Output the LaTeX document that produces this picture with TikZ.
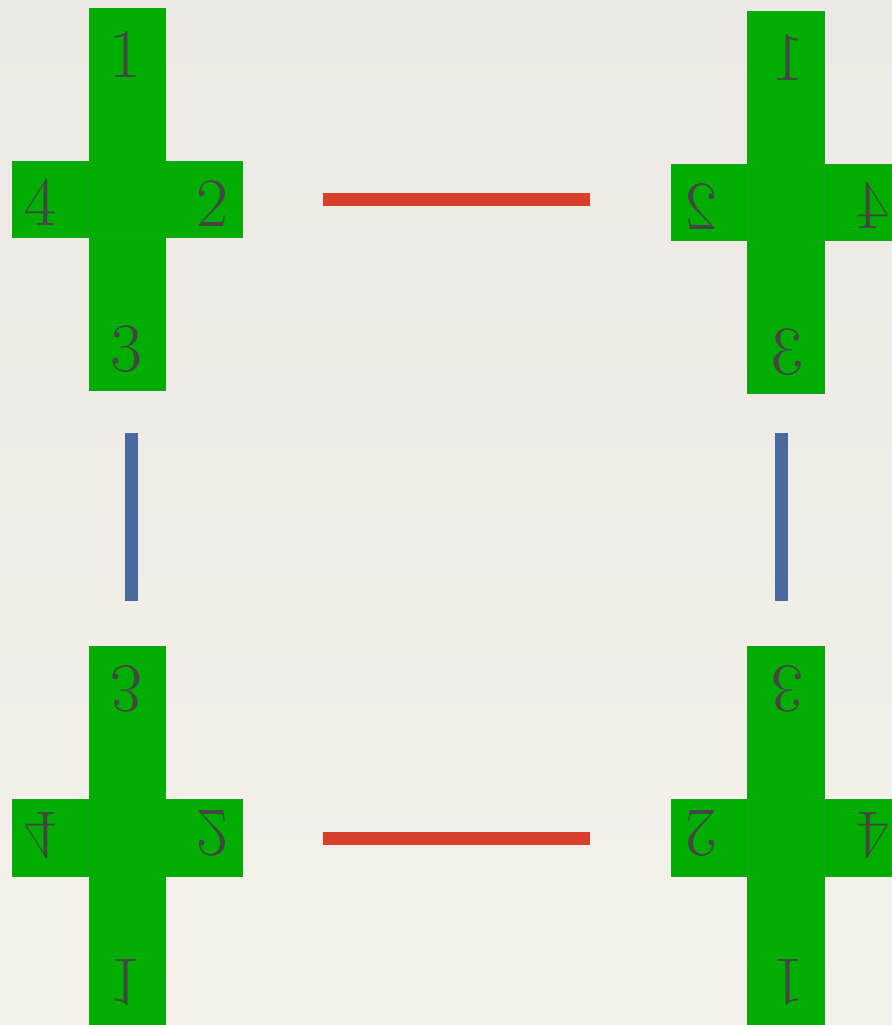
\documentclass[tikz,border=0pt]{standalone}
\usepackage{tikz}
\usetikzlibrary{positioning}
\definecolor{paper}{HTML}{ECE9E4}
\definecolor{paperlow}{HTML}{F4F1EB}
\definecolor{crossgreen}{HTML}{00AD00}
\definecolor{edgegreen}{HTML}{14A414}
\definecolor{digitgray}{HTML}{454545}
\definecolor{redbar}{HTML}{D9402B}
\definecolor{bluebar}{HTML}{4A6A9E}

\begin{document}
\begin{tikzpicture}[x=0.75pt, y=-0.75pt, sq/.style={draw=edgegreen,fill=crossgreen,line width=0.5pt,minimum size=57.4pt,inner sep=0pt,transform shape}, arm/.style={sq,minimum height=114.75pt}, num/.style={text=digitgray,font=\fontsize{52}{52}\selectfont,inner sep=0pt,transform shape}, hbar/.style={draw=redbar,line width=9.75pt}, vbar/.style={draw=bluebar,line width=9.75pt}]
\fill[top color=paper,bottom color=paperlow] (0,0) rectangle (892,1025);
\useasboundingbox (0,0) rectangle (892,1025);
% four copies of the cross, mirrored
\foreach \n/\cx/\cy/\sx/\sy in {tl/127.5/199.5/1/1, tr/786/202.5/-1/1, bl/127.5/838/1/-1, br/786/838/-1/-1}{
\begin{scope}[shift={(\cx,\cy)}, xscale=\sx, yscale=\sy]
\node[arm] (\n1) at (0,-114.75) {};\node[arm] (\n3) at (0,114.75) {};
\node[sq] (\n4) at (-76.5,0) {};\node[sq] (\n2) at (76.5,0) {};
\node[sq] (\n c) at (0,0) {};
\node[num] (\n n1) at (-2.5,-144.5) {1};\node[num] (\n n3) at (-1.5,149.5) {3};
\node[num] (\n n4) at (-87.5,2.5) {4};\node[num] (\n n2) at (84.5,4.5) {2};
\end{scope}}
\draw[hbar,shorten <=89.25pt,shorten >=89.6pt] (tl2.center)--(tl2.center -| tr2.center);
\draw[hbar,shorten <=89.25pt,shorten >=89.6pt] (bl2.center)--(br2.center);
\draw[vbar,shorten <=89.1pt,shorten >=91.7pt] ([xshift=3pt]tl3.center)--([xshift=3pt]bl3.center);
\draw[vbar,shorten <=86.8pt,shorten >=91.7pt] ([xshift=-3.4pt]tr3.center)--([xshift=-3.4pt]br3.center);
\end{tikzpicture}
\end{document}
